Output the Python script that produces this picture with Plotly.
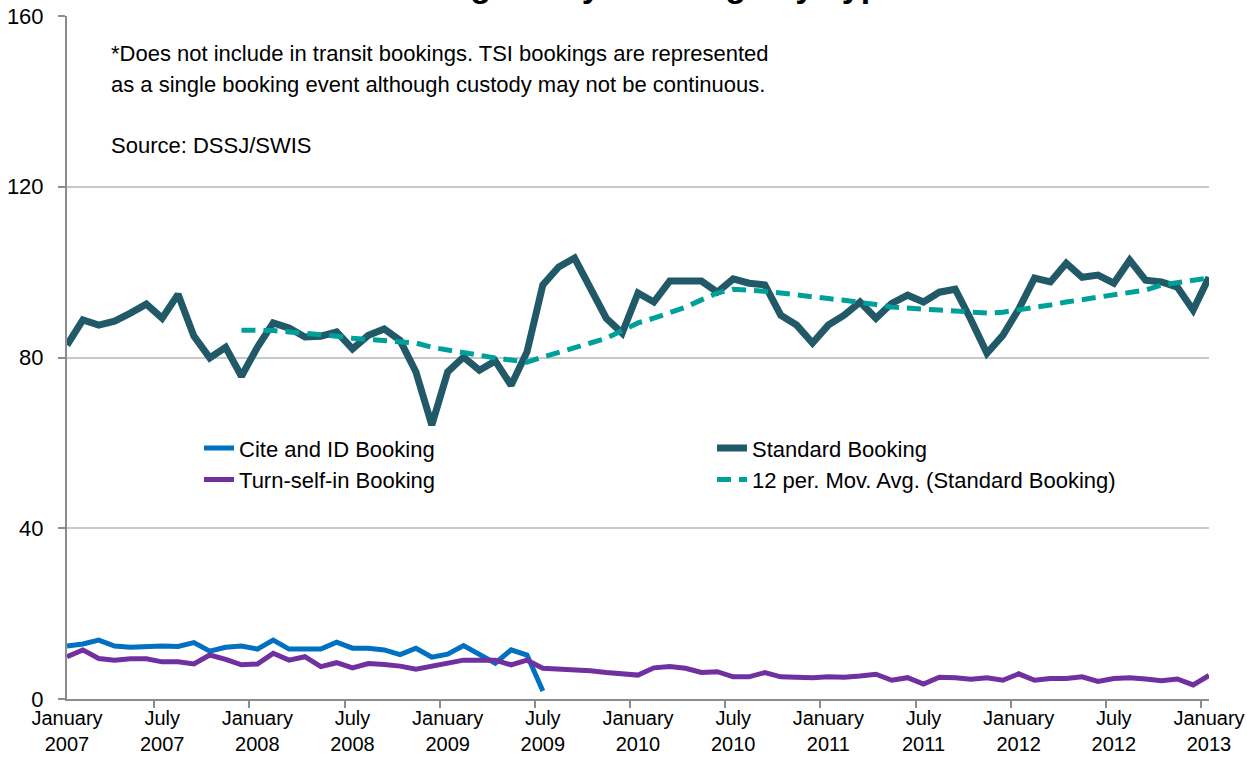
import plotly.graph_objects as go
import pandas as pd

months = [d.strftime("%Y-%m") for d in pd.date_range("2007-01-01", "2013-01-01", freq="MS")]

tick_labels = ["January<br>2007", "July<br>2007", "January<br>2008", "July<br>2008",
               "January<br>2009", "July<br>2009", "January<br>2010", "July<br>2010",
               "January<br>2011", "July<br>2011", "January<br>2012", "July<br>2012",
               "January<br>2013"]

standard = [82.9, 88.8, 87.6, 88.5, 90.4, 92.5, 89.2, 94.8, 85.0, 79.9,
            82.4, 75.6, 82.4, 88.1, 86.9, 84.8, 85.0, 86.0, 82.0, 85.2,
            86.7, 84.0, 76.6, 64.2, 76.6, 80.1, 77.0, 79.2, 73.5, 81.3,
            97.0, 101.2, 103.3, 96.5, 89.2, 85.7, 95.1, 93.0, 97.9, 97.9,
            97.9, 95.3, 98.4, 97.4, 97.0, 89.9, 87.6, 83.4, 87.6, 89.9,
            93.0, 89.2, 92.7, 94.6, 93.0, 95.3, 96.0, 88.8, 81.0, 85.2,
            91.3, 98.6, 97.7, 102.1, 98.8, 99.3, 97.4, 102.8, 98.1, 97.7,
            96.5, 91.1, 98.8]

mov_avg = [None] * 11 + [
            86.4, 86.4, 86.3, 86.0, 85.7, 85.4, 85.0, 84.5, 84.2,
            83.9, 83.6, 83.4, 82.4, 81.7, 81.0, 80.4, 79.9, 79.4, 78.9,
            80.1, 81.3, 82.4, 83.4, 84.5, 86.3, 88.1, 89.2, 90.5, 91.8,
            93.5, 95.1, 96.0, 95.8, 95.5, 95.1, 94.6, 94.1, 93.8, 93.4,
            93.0, 92.4, 91.8, 91.5, 91.3, 91.1, 90.9, 90.7, 90.4, 90.6,
            91.1, 91.6, 92.3, 93.0, 93.5, 94.1, 94.6, 95.1, 95.8, 97.0,
            97.5, 98.0, 98.6]

cite_id = [12.4, 12.9, 13.8, 12.4, 12.1, 12.3, 12.4, 12.3, 13.2, 11.2,
           12.1, 12.4, 11.7, 13.8, 11.7, 11.7, 11.7, 13.3, 11.9, 11.9,
           11.5, 10.4, 11.9, 9.8, 10.5, 12.5, 10.5, 8.4, 11.5, 10.3,
           1.9]

turn_self_in = [9.9, 11.5, 9.5, 9.1, 9.4, 9.4, 8.7, 8.7, 8.2, 10.3,
                9.3, 8.0, 8.2, 10.7, 9.1, 9.9, 7.6, 8.5, 7.3, 8.3,
                8.1, 7.7, 7.0, 7.7, 8.3, 9.1, 9.1, 9.1, 8.0, 9.1,
                7.2, 7.0, 7.0, 6.6, 6.2, 5.8, 5.6, 7.3, 7.6, 7.2,
                6.2, 6.4, 5.2, 5.2, 6.2, 5.2, 5.0, 5.0, 5.2, 5.1,
                5.4, 5.8, 4.4, 5.0, 3.5, 5.1, 5.0, 4.6, 5.0, 4.4,
                5.9, 4.4, 4.8, 4.8, 5.2, 4.1, 4.8, 5.0, 4.7, 4.3,
                4.7, 3.3, 5.5]

FONT = "Liberation Sans, Arial, sans-serif"

fig = go.Figure()
fig.add_trace(go.Scatter(x=months[:len(cite_id)], y=cite_id, mode="lines",
                         name="Cite and ID Booking",
                         line=dict(color="#0070C0", width=5)))
fig.add_trace(go.Scatter(x=months, y=standard, mode="lines",
                         name="Standard Booking",
                         line=dict(color="#215968", width=7)))
fig.add_trace(go.Scatter(x=months, y=turn_self_in, mode="lines",
                         name="Turn-self-in Booking",
                         line=dict(color="#7030A0", width=5)))
fig.add_trace(go.Scatter(x=months, y=mov_avg, mode="lines",
                         name="12 per. Mov. Avg. (Standard Booking)",
                         line=dict(color="#00A09A", width=5, dash="14px,8px")))

fig.update_layout(
    width=1247, height=769,
    margin=dict(l=67, r=38, t=16, b=70, autoexpand=False),
    paper_bgcolor="white", plot_bgcolor="white",
    font=dict(family=FONT, size=22, color="black"),
    showlegend=True,
    legend=dict(orientation="h", x=0.1156, y=0.398, xanchor="left", yanchor="top",
                entrywidth=468, entrywidthmode="pixels",
                font=dict(family=FONT, size=22, color="black"),
                bgcolor="rgba(0,0,0,0)", traceorder="normal"),
    xaxis=dict(type="category", tickmode="array",
               tickvals=months[::6], ticktext=tick_labels, tickangle=0,
               tickson="boundaries", ticks="outside", ticklen=7,
               tickcolor="#8C8C8C", tickwidth=2, automargin=False,
               ticklabeloverflow="allow",
               showline=True, linecolor="#8C8C8C", linewidth=2,
               showgrid=False, zeroline=False,
               tickfont=dict(family=FONT, size=20, color="black")),
    yaxis=dict(range=[0, 160], tickmode="linear", tick0=0, dtick=40,
               ticks="outside", ticklen=7, tickcolor="#8C8C8C", tickwidth=2,
               showline=True, linecolor="#8C8C8C", linewidth=2,
               showgrid=True, gridcolor="#C8C8C8", gridwidth=2,
               zeroline=False, ticklabelstandoff=10, automargin=False,
               ticklabeloverflow="allow",
               tickfont=dict(family=FONT, size=22, color="black")),
    annotations=[
        dict(text="<b>Average Daily Bookings by Type</b>", xref="paper", yref="paper",
             x=0.5, y=1.0140, xanchor="center", yanchor="bottom", showarrow=False,
             font=dict(family=FONT, size=34, color="black")),
        dict(text="*Does not include in transit bookings. TSI bookings are represented",
             xref="paper", yref="paper", x=0.0368, y=0.9458, xanchor="left",
             yanchor="middle", showarrow=False,
             font=dict(family=FONT, size=22, color="black")),
        dict(text="as a single booking event although custody may not be continuous.",
             xref="paper", yref="paper", x=0.0368, y=0.9004, xanchor="left",
             yanchor="middle", showarrow=False,
             font=dict(family=FONT, size=22, color="black")),
        dict(text="Source: DSSJ/SWIS",
             xref="paper", yref="paper", x=0.0368, y=0.8097, xanchor="left",
             yanchor="middle", showarrow=False,
             font=dict(family=FONT, size=22, color="black")),
    ],
)

fig.write_html("out.html", config={"displayModeBar": False},
               post_script="document.body.style.margin='0';document.body.style.overflow='hidden';")
